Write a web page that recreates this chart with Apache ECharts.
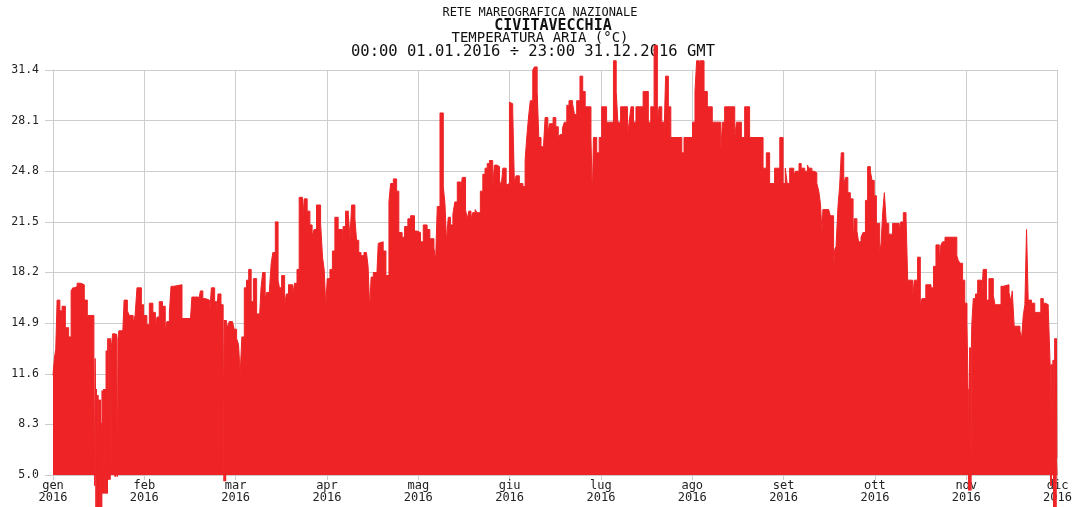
<!DOCTYPE html>
<html>
<head>
<meta charset="utf-8">
<script src="https://cdn.jsdelivr.net/npm/echarts@6/dist/echarts.min.js"></script>
<style>
  html, body { margin: 0; padding: 0; background: #ffffff; }
  #chart { width: 1075px; height: 507px; }
</style>
</head>
<body>
<div id="chart"></div>
<script>
// Axis tick labels
const monthNames = ['gen', 'feb', 'mar', 'apr', 'mag', 'giu', 'lug', 'ago', 'set', 'ott', 'nov', 'dic'];
const yearLabel = '2016';
const tempTicks = ['5.0', '8.3', '11.6', '14.9', '18.2', '21.5', '24.8', '28.1', '31.4'];

// Air temperature (°C) as [day of year at which the reading starts, value]
const janFeb = [
  [0, 11.5], [0.5, 12.6], [1.0, 13.2], [1.5, 16.4], [2.5, 15.7], [3.3, 16.0], [4.5, 14.6], [5.7, 14.0],
  [6.6, 17.0], [7.2, 17.2], [8.0, 17.3], [8.8, 17.5], [10.2, 17.4], [11.4, 16.4], [12.5, 15.4], [14.9, 12.6],
  [15.2, 4.3], [15.35, 12.6], [15.5, 10.6], [15.65, 2.8], [15.8, 10.6], [15.95, 2.8], [16.1, 10.2], [16.25, 2.8],
  [16.4, 10.2], [16.55, 2.8], [16.7, 9.9], [16.85, 2.8], [17.0, 9.9], [17.15, 2.8], [17.3, 9.9], [17.45, 2.8],
  [17.6, 8.4], [17.75, 2.8], [17.9, 10.5], [18.05, 3.8], [18.2, 10.5], [18.35, 3.8], [18.5, 10.6], [18.65, 3.8],
  [18.8, 10.6], [18.95, 3.8], [19.1, 10.6], [19.25, 3.8], [19.4, 13.1], [19.55, 3.8], [19.7, 13.1], [19.85, 3.8],
  [19.95, 13.9], [20.2, 4.7], [20.35, 13.9], [20.5, 4.7], [20.65, 13.9], [20.8, 4.7], [20.95, 13.9], [21.1, 13.0],
  [21.7, 14.2], [22.6, 4.9], [22.75, 14.2], [22.9, 4.9], [23.05, 14.2], [23.2, 13.9], [23.5, 4.9], [23.65, 13.9],
  [24.0, 14.4], [25.4, 14.2], [25.9, 16.4], [27.1, 15.7], [27.8, 15.4],
  [29.2, 14.9], [29.9, 15.4], [30.6, 17.2], [32.2, 16.1], [33.0, 15.4], [34.2, 14.8], [35.1, 16.2], [36.4, 15.6],
  [37.3, 14.7], [37.9, 15.3], [38.7, 16.3], [39.9, 16.0], [40.9, 14.4], [41.5, 15.0], [42.4, 15.6], [43.0, 17.3],
  [44.0, 17.4], [47.0, 15.2], [50.0, 14.9], [50.6, 16.6], [53.0, 16.3], [53.7, 17.0], [54.6, 16.5], [55.5, 16.4],
  [57.0, 15.3], [57.7, 17.2], [58.9, 16.3], [59.7, 15.6]
];
const marApr = [
  [60.1, 16.8], [61.2, 16.1], [62.0, 15.1], [62.3, 4.6], [62.45, 15.1], [62.6, 4.6], [62.75, 15.1], [62.9, 4.6],
  [63.05, 15.1], [63.6, 14.6], [64.2, 15.0], [65.4, 14.9],
  [66.0, 14.5], [66.9, 13.9], [67.6, 13.5], [68.2, 11.6], [68.8, 14.0], [69.7, 17.2], [70.5, 17.7], [71.3, 18.4],
  [72.2, 16.3], [73.0, 17.8], [74.2, 15.5], [75.1, 14.8], [75.8, 17.2], [76.4, 18.2], [77.3, 16.4], [77.8, 16.9],
  [78.8, 16.8], [79.5, 18.8], [80.1, 19.5], [81.0, 21.5], [82.0, 17.7], [82.5, 17.2], [83.3, 18.0], [84.4, 16.1],
  [85.0, 16.8], [85.8, 17.4], [87.3, 16.7], [88.0, 17.5], [88.9, 18.4], [89.7, 23.1], [90.9, 21.3], [91.5, 23.0],
  [92.6, 22.2], [93.6, 21.3], [94.4, 20.6], [95.1, 21.0], [96.0, 22.6], [97.5, 21.4], [98.2, 19.2], [98.8, 18.4],
  [99.4, 16.0], [99.9, 17.8], [100.9, 18.4], [101.8, 19.6], [102.7, 21.8], [103.9, 21.0], [105.4, 19.1], [105.7, 21.2],
  [106.6, 22.2], [107.6, 22.0], [108.2, 20.4], [108.8, 22.6], [110.0, 21.7], [110.6, 20.3], [111.4, 19.5], [112.2, 19.3],
  [113.3, 19.5], [114.2, 19.6], [114.8, 18.6], [115.4, 15.8], [115.9, 17.9], [116.7, 18.2], [117.9, 17.7], [118.5, 20.1],
  [119.1, 20.2], [120.3, 19.6], [121.3, 18.0]
];
const mayJun = [
  [122.4, 22.8], [123.0, 24.0], [124.0, 24.3], [125.2, 23.5], [126.0, 20.8], [127.2, 20.5], [128.1, 21.2], [129.3, 21.7],
  [130.3, 21.9], [131.7, 20.9], [132.7, 20.8], [133.9, 20.2], [134.9, 21.3], [136.3, 21.0], [137.3, 20.4], [138.8, 19.8],
  [139.4, 19.0], [140.0, 22.5], [141.0, 28.6], [142.2, 23.8], [142.8, 22.7], [143.4, 20.2], [144.0, 21.8], [144.8, 21.3],
  [145.7, 22.0], [146.4, 22.8], [147.3, 24.1], [148.5, 23.4], [149.1, 24.4], [150.3, 22.3], [150.9, 21.7], [151.5, 22.2],
  [152.3, 21.7], [152.9, 22.1], [153.8, 22.3], [154.5, 22.1], [155.7, 23.5], [156.6, 24.6], [157.4, 25.0], [158.2, 25.3],
  [159.0, 25.5], [160.2, 23.7], [160.8, 25.2], [161.8, 25.1], [162.7, 24.2], [163.3, 23.8], [163.9, 25.0], [165.1, 23.9],
  [165.7, 24.0], [166.3, 29.3], [166.9, 29.2], [167.5, 28.7], [168.1, 24.0], [168.7, 24.5], [169.9, 24.0], [171.2, 23.8],
  [172.0, 25.5], [172.7, 27.2], [173.3, 28.4], [173.9, 29.4], [174.8, 31.4], [175.4, 31.6], [176.4, 30.0], [177.0, 27.0],
  [177.8, 26.4], [178.7, 26.3], [179.3, 28.3], [180.3, 27.3], [180.9, 27.9], [182.2, 28.3]
];
const julAug = [
  [183.2, 27.7], [184.1, 27.0], [184.8, 27.2], [185.6, 27.6], [186.3, 28.0], [187.2, 29.1], [188.0, 29.4], [189.3, 29.2],
  [190.0, 28.5], [190.8, 29.4], [192.0, 31.0], [193.0, 30.0], [193.9, 29.0], [196.0, 27.0], [196.5, 23.1], [196.9, 27.0],
  [198.1, 26.0], [199.0, 27.0], [199.9, 29.0], [201.7, 28.0], [204.2, 32.0], [205.2, 30.0], [205.8, 28.0], [206.8, 29.0],
  [209.3, 27.0], [209.9, 28.0], [210.6, 29.0], [211.5, 28.0], [212.4, 29.0], [215.0, 30.0], [216.9, 28.0], [217.8, 29.0],
  [219.0, 33.0], [220.2, 28.0], [220.8, 29.0], [221.8, 28.0], [222.6, 27.0], [223.2, 31.0], [224.2, 29.0], [225.1, 27.0],
  [229.1, 26.0], [229.9, 27.0], [233.0, 28.0], [233.9, 30.0], [234.5, 32.0], [235.4, 31.0], [235.7, 32.0], [237.2, 30.0],
  [238.4, 29.0], [240.2, 28.0], [243.3, 26.0], [243.9, 28.0]
];
const sepOct = [
  [244.7, 29.0], [248.4, 27.0], [249.0, 28.0], [250.8, 27.0], [252.0, 29.0], [253.8, 27.0], [258.7, 25.0], [259.9, 26.0],
  [261.1, 24.0], [262.9, 25.0], [264.8, 27.0], [266.0, 24.0], [266.8, 25.0], [267.5, 24.0], [268.4, 25.0], [269.9, 24.6],
  [270.6, 24.8], [271.8, 25.3], [272.6, 25.0], [273.9, 24.8], [274.9, 25.2], [275.3, 25.0], [276.5, 24.8], [277.4, 24.7],
  [278.3, 24.0], [279.0, 23.5], [279.6, 22.7], [280.2, 20.8], [280.5, 22.3], [282.6, 22.2], [283.2, 21.9], [284.4, 18.2],
  [284.8, 19.7], [285.3, 19.9], [286.0, 22.5], [286.6, 23.8], [287.2, 26.0], [288.1, 23.9], [288.7, 24.4], [289.6, 23.4],
  [290.5, 23.0], [291.5, 19.7], [291.9, 21.7], [292.9, 20.9], [293.5, 20.2], [294.4, 20.5], [295.1, 20.8], [296.0, 22.9],
  [296.8, 25.1], [297.8, 24.8], [298.4, 24.2], [299.2, 23.2], [300.0, 21.4], [301.2, 19.5], [301.7, 20.1], [302.3, 22.1],
  [302.9, 23.4], [303.6, 21.4], [304.5, 20.7]
];
const novDec = [
  [305.9, 21.4], [308.3, 21.0], [308.9, 21.5], [309.8, 22.1], [310.8, 21.8], [311.4, 17.7], [313.2, 16.5], [313.8, 17.7],
  [315.0, 19.2], [316.0, 16.0], [316.6, 16.5], [318.0, 17.4], [319.9, 17.2], [320.8, 18.6], [321.7, 20.0], [322.9, 19.0],
  [323.5, 20.0], [324.1, 20.2], [325.0, 20.5], [329.3, 19.3], [329.8, 19.0], [330.5, 18.8], [331.4, 17.7], [332.2, 16.2],
  [333.0, 14.9], [333.4, 10.6], [333.55, 4.0], [333.7, 10.6], [333.85, 4.0], [334.0, 13.3], [334.15, 4.0], [334.3, 13.3],
  [334.45, 4.0], [334.6, 13.3], [334.75, 14.8], [335.3, 16.5],
  [336.1, 16.8], [336.9, 17.7], [338.3, 16.4], [338.9, 18.4], [340.1, 16.4], [341.0, 17.8], [342.6, 16.7], [343.2, 16.1],
  [345.4, 17.3], [346.2, 17.4], [348.3, 16.9], [349.0, 16.3], [349.5, 17.0], [350.2, 14.7], [352.3, 14.4], [352.9, 13.9],
  [353.5, 15.4], [354.1, 16.1], [354.7, 21.0], [355.3, 16.4], [356.5, 16.2], [357.7, 15.6], [359.9, 16.5], [360.8, 16.2],
  [361.6, 16.1], [362.6, 15.9], [363.3, 12.2], [363.45, 4.3], [363.6, 12.2], [363.75, 4.3], [363.9, 12.2], [364.1, 11.8],
  [364.4, 12.5], [364.55, 2.8], [364.7, 12.5], [364.85, 2.8], [365.0, 13.9], [365.15, 2.8], [365.3, 13.9], [365.45, 2.8],
  [365.6, 13.9], [365.75, 6.1], [366, 6.1]
];

const readings = [].concat(janFeb, marApr, mayJun, julAug, sepOct, novDec);

const FONT = 'DejaVu Sans Mono';
const GRID_GREY = '#cdcdcd';
const FILL_RED = '#ee2326';

const chart = echarts.init(document.getElementById('chart'), null, { renderer: 'canvas' });

// Four centred heading lines above the plot
function heading(text, x, y, font) {
  return { type: 'text', x: x, y: y, style: { text: text, font: font, fill: '#111', align: 'center', verticalAlign: 'middle' } };
}

chart.setOption({
  animation: false,
  backgroundColor: '#ffffff',
  graphic: [
    heading('RETE MAREOGRAFICA NAZIONALE', 540, 13, '12px ' + FONT),
    heading('CIVITAVECCHIA', 553, 26, 'bold 15px ' + FONT),
    heading('TEMPERATURA ARIA (°C)', 540, 38.5, '14px ' + FONT),
    heading('00:00 01.01.2016 ÷ 23:00 31.12.2016 GMT', 533, 51.5, '15.5px ' + FONT)
  ],
  grid: { left: 53, right: 17, top: 70, bottom: 32, containLabel: false },
  xAxis: [
    {
      type: 'category',
      data: monthNames,
      boundaryGap: false,
      position: 'bottom',
      axisLine: { show: true, lineStyle: { color: GRID_GREY, width: 1 } },
      axisTick: { show: true, interval: 0, length: 5, lineStyle: { color: GRID_GREY } },
      splitLine: { show: true, interval: 0, lineStyle: { color: GRID_GREY, width: 1 } },
      axisLabel: {
        interval: 0, margin: 5, color: '#222', fontFamily: FONT, fontSize: 12, lineHeight: 12,
        formatter: (m) => m + '\n' + yearLabel
      }
    },
    { type: 'value', min: 0, max: 366, show: false }
  ],
  yAxis: [
    {
      type: 'category',
      data: tempTicks,
      boundaryGap: false,
      axisLine: { show: true, lineStyle: { color: GRID_GREY, width: 1 } },
      axisTick: { show: true, interval: 0, length: 8, lineStyle: { color: GRID_GREY } },
      splitLine: { show: true, interval: 0, lineStyle: { color: GRID_GREY, width: 1 } },
      axisLabel: { interval: 0, margin: 14, color: '#222', fontFamily: FONT, fontSize: 11.5 }
    },
    { type: 'value', min: 5, max: 31.4, show: false }
  ],
  series: [
    {
      name: 'Temperatura aria',
      type: 'line',
      xAxisIndex: 1,
      yAxisIndex: 1,
      step: 'end',
      symbol: 'none',
      clip: false,
      data: readings,
      lineStyle: { color: FILL_RED, width: 1 },
      areaStyle: { color: FILL_RED, opacity: 1, origin: 'start' },
      z: 3
    }
  ]
});
</script>
</body>
</html>
